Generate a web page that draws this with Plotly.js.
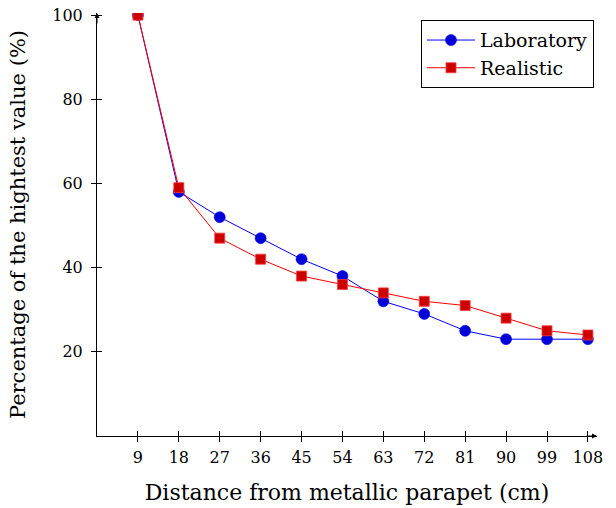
<!DOCTYPE html>
<html><head><meta charset="utf-8">
<script src="https://cdn.plot.ly/plotly-3.0.1.min.js"></script>
<style>body{margin:0;background:#fff}#c{width:616px;height:508px}</style>
</head><body><div id="c"></div>
<script>
const distance = [9, 18, 27, 36, 45, 54, 63, 72, 81, 90, 99, 108];
const laboratory = [100, 58, 52, 47, 42, 38, 32, 29, 25, 23, 23, 23];
const realistic = [100, 59, 47, 42, 38, 36, 34, 32, 31, 28, 25, 24];
const yTicks = [20, 40, 60, 80, 100];
const FONT = 'DejaVu Serif, Liberation Serif, serif';

const traces = [
  {x: distance, y: laboratory, name: 'Laboratory', mode: 'lines+markers', type: 'scatter',
   line: {color: 'rgb(0,0,255)', width: 1},
   marker: {symbol: 'circle', size: 11, color: 'rgb(0,0,215)', line: {color: 'rgb(0,0,255)', width: 0.6}}},
  {x: distance, y: realistic, name: 'Realistic', mode: 'lines+markers', type: 'scatter',
   line: {color: 'rgb(255,0,0)', width: 1},
   marker: {symbol: 'square', size: 10, color: 'rgb(204,0,0)', line: {color: 'rgb(255,60,60)', width: 0.8}}},
  {x: [], y: [], xaxis: 'x2', yaxis: 'y2', showlegend: false, type: 'scatter'}
];

const layout = {
  width: 616, height: 508,
  margin: {l: 97, r: 19, t: 13, b: 72},
  paper_bgcolor: '#fff', plot_bgcolor: '#fff',
  font: {family: FONT, size: 16, color: '#000'},
  showlegend: true,
  legend: {x: 0.994, y: 0.983, xanchor: 'right', yanchor: 'top',
           bordercolor: '#000', borderwidth: 1, bgcolor: '#fff',
           font: {family: FONT, size: 19}, tracegroupgap: 0, itemwidth: 48},
  xaxis: {range: [0, 110], tickvals: distance, ticktext: distance.map(String),
          showgrid: false, zeroline: false, showline: true, linecolor: '#000', linewidth: 1,
          ticks: 'outside', ticklen: 5, tickcolor: '#000', tickwidth: 1,
          tickfont: {family: FONT, size: 16}, ticklabelstandoff: 2,
          title: {text: 'Distance from metallic parapet (cm)', font: {family: FONT, size: 22}, standoff: 18}},
  yaxis: {range: [0, 100.5], tickvals: yTicks, ticktext: yTicks.map(String),
          showgrid: false, zeroline: false, showline: true, linecolor: '#000', linewidth: 1,
          ticks: 'outside', ticklen: 5, tickcolor: '#000', tickwidth: 1,
          tickfont: {family: FONT, size: 16}, ticklabelstandoff: 5,
          title: {text: 'Percentage of the hightest value (%)', font: {family: FONT, size: 21}, standoff: 20}},
  xaxis2: {range: [0, 110], overlaying: 'x', tickvals: distance, showticklabels: false,
           showgrid: false, zeroline: false, showline: false,
           ticks: 'inside', ticklen: 5, tickcolor: '#000', tickwidth: 1},
  yaxis2: {range: [0, 100.5], overlaying: 'y', tickvals: yTicks, showticklabels: false,
           showgrid: false, zeroline: false, showline: false,
           ticks: 'inside', ticklen: 5, tickcolor: '#000', tickwidth: 1},
  annotations: [
    {x: 110, y: 0, xref: 'x', yref: 'y', ax: -12, ay: 0, text: '', showarrow: true,
     arrowhead: 2, arrowsize: 1, arrowwidth: 1, arrowcolor: '#000'},
    {x: 0, y: 100.5, xref: 'x', yref: 'y', ax: 0, ay: 12, text: '', showarrow: true,
     arrowhead: 2, arrowsize: 1, arrowwidth: 1, arrowcolor: '#000'}
  ]
};
Plotly.newPlot('c', traces, layout, {displayModeBar: false, staticPlot: true});
</script></body></html>
